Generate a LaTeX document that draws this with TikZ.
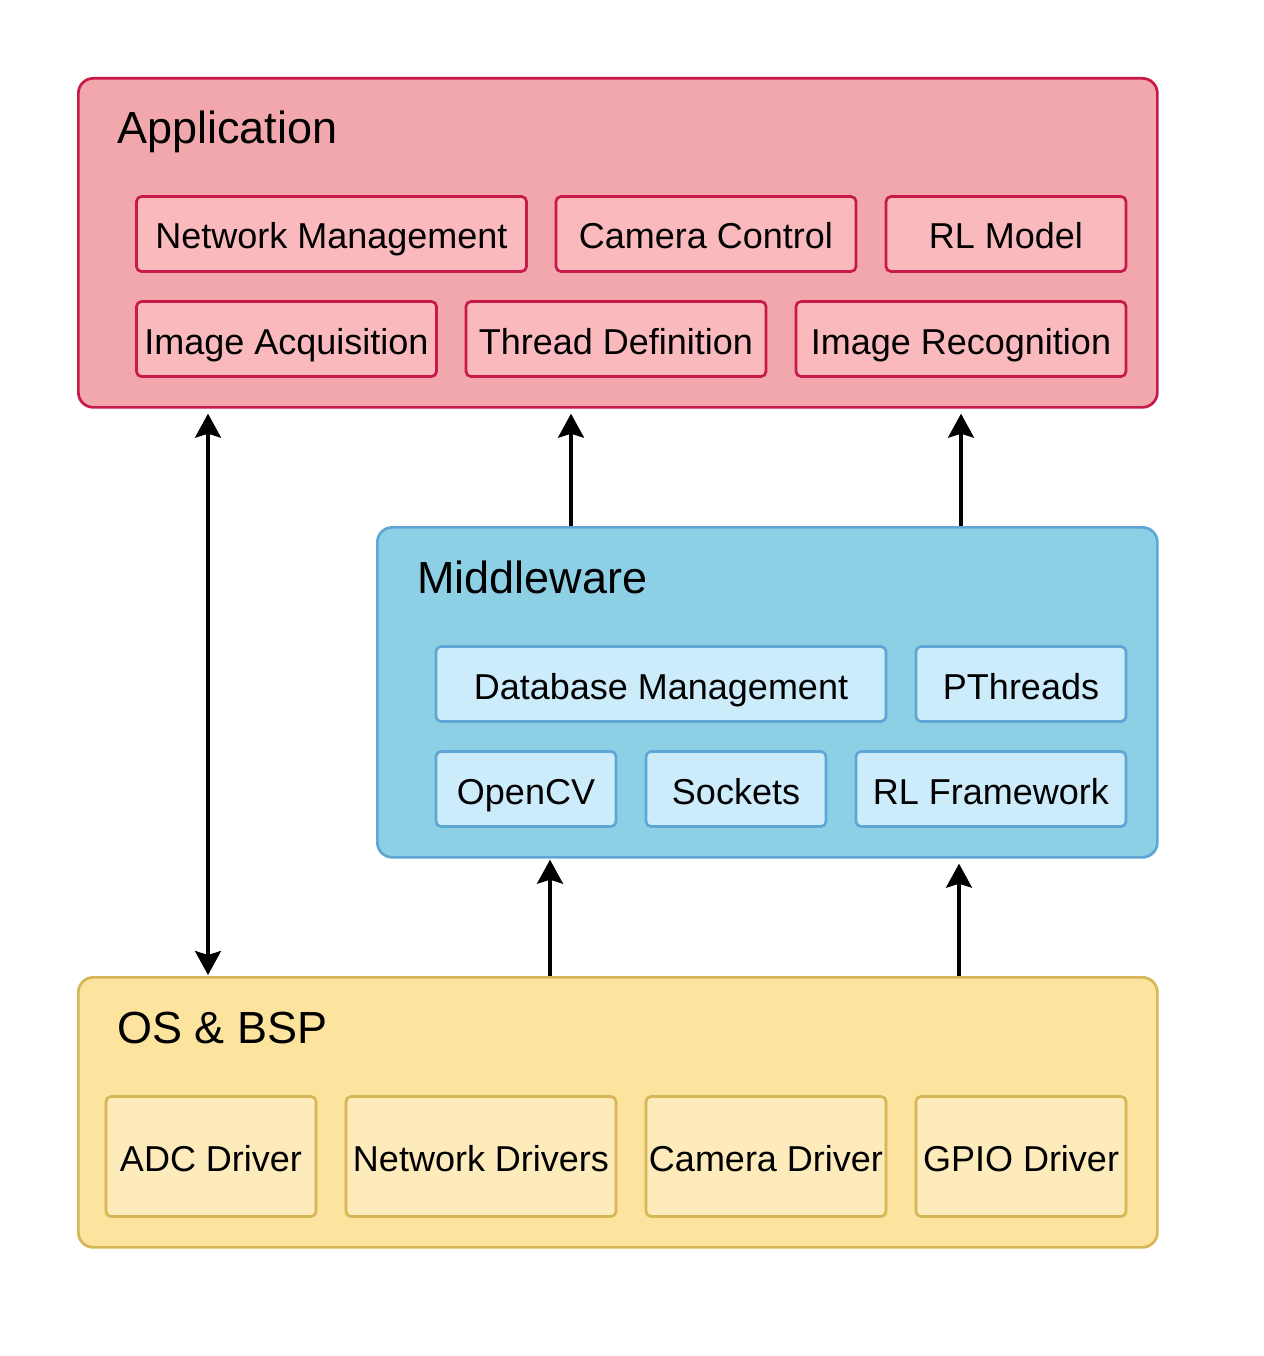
\documentclass[tikz,border=0pt]{standalone}
\usepackage{fontspec}
\setmainfont{Liberation Sans}
\usetikzlibrary{arrows.meta}
\definecolor{appfill}{HTML}{F1A7AB}
\definecolor{appdraw}{HTML}{C8194B}
\definecolor{appin}{HTML}{F9B9BD}
\definecolor{midfill}{HTML}{8DD0E6}
\definecolor{middraw}{HTML}{5EA6D4}
\definecolor{midin}{HTML}{CCEBFB}
\definecolor{osfill}{HTML}{FCE49F}
\definecolor{osdraw}{HTML}{D6B656}
\definecolor{osin}{HTML}{FEEBBB}
\tikzset{
  outerbox/.style={draw, line width=2.7pt, rounded corners=15pt, anchor=north west, inner sep=0pt},
  innerbox/.style={draw, line width=2.7pt, rounded corners=5pt, inner sep=0pt,
    font=\fontsize{36}{40}\selectfont, text height=30pt, text depth=0pt},
  appb/.style={innerbox, fill=appin, draw=appdraw, minimum height=75pt},
  midb/.style={innerbox, fill=midin, draw=middraw, minimum height=75pt},
  osb/.style={innerbox, fill=osin, draw=osdraw, minimum height=120pt},
  ttl/.style={anchor=base west, inner sep=0pt, font=\fontsize{45}{50}\selectfont},
  tip/.style={Stealth[length=24pt, width=26pt, inset=4pt]},
  arr/.style={line width=3.2pt, -{Stealth[length=24pt, width=26pt, inset=4pt]}},
  darr/.style={line width=3.2pt, {Stealth[length=24pt, width=26pt, inset=4pt]}-{Stealth[length=24pt, width=26pt, inset=4pt]}}
}
\begin{document}
\begin{tikzpicture}[x=1pt,y=-1pt]
\useasboundingbox[fill=white] (0,0) rectangle (1263,1356);
% Application
\node[outerbox, fill=appfill, draw=appdraw, minimum width=1079pt, minimum height=329pt] (app) at (77,77) {};
\node[ttl] (apptitle) at (117,144) {Application};
\node[appb, minimum width=390pt] (netm) at (331.5,234) {Network Management};
\node[appb, minimum width=300pt] (camc) at (706,234) {Camera Control};
\node[appb, minimum width=240pt] (rlm) at (1006,234) {RL Model};
\node[appb, minimum width=300pt] (imga) at (286.5,339) {Image Acquisition};
\node[appb, minimum width=300pt] (thrd) at (616,339) {Thread Definition};
\node[appb, minimum width=330pt] (imgr) at (961,339) {Image Recognition};
% Middleware
\node[outerbox, fill=midfill, draw=middraw, minimum width=780pt, minimum height=330pt] (mid) at (376,526) {};
\node[ttl] (midtitle) at (417,593) {Middleware};
\node[midb, minimum width=450pt] (dbm) at (661,684) {Database Management};
\node[midb, minimum width=210pt] (pth) at (1021,684) {PThreads};
\node[midb, minimum width=180pt] (ocv) at (526,789) {OpenCV};
\node[midb, minimum width=180pt] (sock) at (736,789) {Sockets};
\node[midb, minimum width=270pt] (rlf) at (991,789) {RL Framework};
% OS & BSP
\node[outerbox, fill=osfill, draw=osdraw, minimum width=1079pt, minimum height=270pt] (os) at (77,976) {};
\node[ttl] (ostitle) at (117,1043) {OS \& BSP};
\node[osb, minimum width=210pt] (adc) at (211,1156.5) {ADC Driver};
\node[osb, minimum width=270pt] (netd) at (481,1156.5) {Network Drivers};
\node[osb, minimum width=240pt] (camd) at (766,1156.5) {Camera Driver};
\node[osb, minimum width=210pt] (gpio) at (1021,1156.5) {GPIO Driver};
% connectors
\coordinate (c1) at (208,0);
\coordinate (c2) at (571,0);
\coordinate (c3) at (961,0);
\coordinate (c4) at (550,0);
\coordinate (c5) at (959,0);
\draw[darr, shorten <=5pt, shorten >=1pt] (app.south -| c1) -- (os.north -| c1);
\draw[arr, shorten >=5pt] (mid.north -| c2) -- (app.south -| c2);
\draw[arr, shorten >=5pt] (mid.north -| c3) -- (app.south -| c3);
\draw[arr, shorten >=1pt] (os.north -| c4) -- (mid.south -| c4);
\draw[arr, shorten >=5pt] (os.north -| c5) -- (mid.south -| c5);
\end{tikzpicture}
\end{document}
